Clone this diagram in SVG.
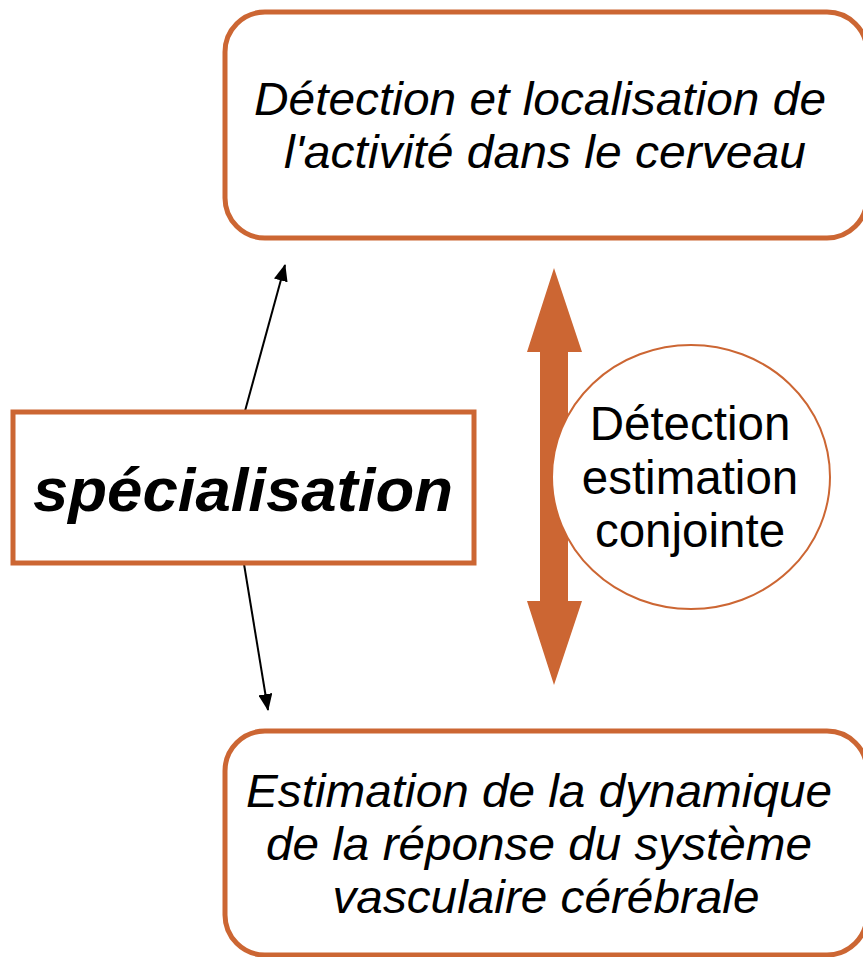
<svg xmlns="http://www.w3.org/2000/svg" width="863" height="957" viewBox="0 0 863 957">
<style>
.box{fill:#fff;stroke:#CC6633;stroke-width:5}
.it{font-family:"Liberation Sans",Arial,sans-serif;font-style:italic;font-size:46px;fill:#000;text-anchor:middle}
.rg{font-family:"Liberation Sans",Arial,sans-serif;font-size:47.5px;fill:#000;text-anchor:middle}
.bd{font-family:"Liberation Sans",Arial,sans-serif;font-style:italic;font-weight:bold;font-size:62px;fill:#000;text-anchor:middle}
.thin{stroke:#000;stroke-width:2;fill:none}
</style>
<defs>
<marker id="ah" viewBox="0 0 17 14" refX="16" refY="7" markerWidth="17" markerHeight="14" markerUnits="userSpaceOnUse" orient="auto">
<path d="M0,0 L17,7 L0,14 Z" fill="#000"/>
</marker>
</defs>
<rect width="863" height="957" fill="#fff"/>
<g id="connectors">
<line class="thin" x1="245" y1="411" x2="285" y2="265" marker-end="url(#ah)"/>
<line class="thin" x1="244" y1="564" x2="268" y2="710" marker-end="url(#ah)"/>
<path id="double-arrow" d="M554,268 L582,352 L568,352 L568,601 L582,601 L554,685 L527,601 L540,601 L540,352 L527,352 Z" fill="#CC6633"/>
</g>
<g id="top-box">
<rect class="box" x="225" y="12" width="642" height="226" rx="40" ry="40"/>
<text class="it" x="540" y="115" textLength="572" lengthAdjust="spacingAndGlyphs">Détection et localisation de</text>
<text class="it" x="545" y="168" textLength="522" lengthAdjust="spacingAndGlyphs">l'activité dans le cerveau</text>
</g>
<g id="bottom-box">
<rect class="box" x="225" y="731" width="642" height="224" rx="40" ry="40"/>
<text class="it" x="539" y="807" textLength="586" lengthAdjust="spacingAndGlyphs">Estimation de la dynamique</text>
<text class="it" x="539" y="860" textLength="546" lengthAdjust="spacingAndGlyphs">de la réponse du système</text>
<text class="it" x="546" y="913" textLength="427" lengthAdjust="spacingAndGlyphs">vasculaire cérébrale</text>
</g>
<g id="specialisation">
<rect class="box" x="13" y="412" width="461" height="151"/>
<text class="bd" x="243" y="511" textLength="420" lengthAdjust="spacingAndGlyphs">spécialisation</text>
</g>
<g id="circle">
<ellipse cx="691" cy="477" rx="139" ry="132" fill="#fff" stroke="#CC6633" stroke-width="2"/>
<text class="rg" x="690" y="440">Détection</text>
<text class="rg" x="690" y="494">estimation</text>
<text class="rg" x="690" y="547">conjointe</text>
</g>
</svg>
